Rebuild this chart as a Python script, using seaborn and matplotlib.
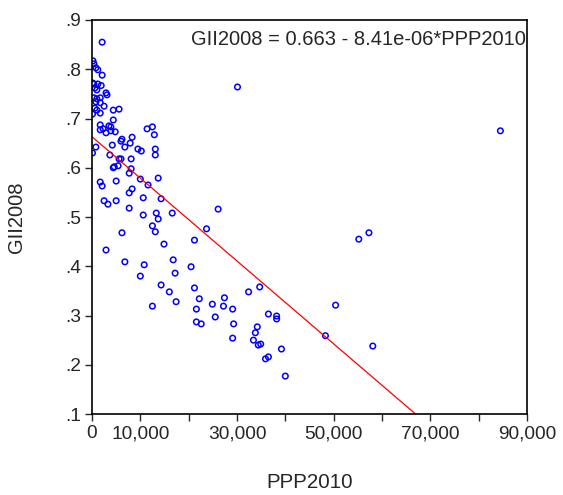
import numpy as np
import pandas as pd
import matplotlib
matplotlib.use("Agg")
import matplotlib.pyplot as plt
import seaborn as sns

# values
ppp2010 = [
    2100, 200, 400, 800, 1200, 2100, 150, 400, 1200, 1900,
    600, 1000, 2900, 3100, 400, 1000, 1700, 800, 1700, 2500,
    600, 1000, 1700, 4400, 5600, 100, 4400, 1700, 3500, 3900,
    1700, 2300, 2900, 3900, 4800, 6200, 8300, 11400, 12500, 12900,
    7900, 6800, 4200, 800, 100, 9500, 10200, 13100, 13100, 3700,
    5600, 6000, 8100, 4600, 4400, 5400, 7700, 8100, 10000, 11600,
    13700, 1700, 2100, 5000, 8300, 7700, 10600, 14300, 2500, 3300,
    5000, 7700, 13300, 13700, 10600, 16600, 12500, 13100, 6200, 21200,
    26100, 23700, 14900, 2900, 6800, 10800, 10000, 16800, 17200, 20500,
    14300, 16000, 21200, 32400, 12500, 17400, 22200, 21600, 24900, 27200,
    27400, 29100, 25500, 21600, 22600, 29300, 29100, 34700, 36500, 38200,
    38200, 34200, 33800, 33400, 34400, 34900, 35900, 36500, 39200, 40000,
    50400, 48300, 55200, 57300, 58100, 30100, 84500, 6000,
]
gii2008 = [
    0.855, 0.817, 0.811, 0.803, 0.799, 0.788, 0.772, 0.770, 0.770, 0.767,
    0.762, 0.758, 0.752, 0.748, 0.742, 0.740, 0.742, 0.734, 0.732, 0.725,
    0.721, 0.717, 0.711, 0.717, 0.719, 0.709, 0.697, 0.687, 0.685, 0.683,
    0.677, 0.679, 0.671, 0.675, 0.673, 0.658, 0.662, 0.679, 0.683, 0.667,
    0.650, 0.642, 0.646, 0.642, 0.630, 0.638, 0.634, 0.638, 0.626, 0.626,
    0.618, 0.618, 0.618, 0.602, 0.600, 0.604, 0.589, 0.598, 0.577, 0.565,
    0.579, 0.571, 0.563, 0.573, 0.557, 0.549, 0.539, 0.537, 0.533, 0.526,
    0.533, 0.518, 0.508, 0.496, 0.504, 0.508, 0.482, 0.470, 0.468, 0.453,
    0.516, 0.476, 0.445, 0.433, 0.409, 0.403, 0.380, 0.413, 0.386, 0.399,
    0.362, 0.348, 0.356, 0.348, 0.319, 0.328, 0.334, 0.313, 0.323, 0.319,
    0.336, 0.313, 0.297, 0.287, 0.283, 0.283, 0.254, 0.358, 0.303, 0.299,
    0.293, 0.277, 0.265, 0.250, 0.240, 0.242, 0.212, 0.216, 0.232, 0.177,
    0.321, 0.259, 0.455, 0.468, 0.238, 0.764, 0.675, 0.654,
]

# fitted regression line
intercept = 0.663
slope = -8.41e-06

x_ticks = [0, 10000, 20000, 30000, 40000, 50000, 60000, 70000, 80000, 90000]
x_tick_labels = ["0", "10,000", "", "30,000", "", "50,000", "", "70,000", "", "90,000"]
y_ticks = [0.1, 0.2, 0.3, 0.4, 0.5, 0.6, 0.7, 0.8, 0.9]
y_tick_labels = [".1", ".2", ".3", ".4", ".5", ".6", ".7", ".8", ".9"]

df = pd.DataFrame({"PPP2010": ppp2010, "GII2008": gii2008})

sns.set_style("ticks")
plt.rcParams["font.family"] = ["Liberation Sans", "DejaVu Sans"]

fig = plt.figure(figsize=(5.63, 4.95), dpi=100)
ax = fig.add_axes([0.1634, 0.1636, 0.7726, 0.796])

sns.scatterplot(data=df, x="PPP2010", y="GII2008", ax=ax, marker="o",
                facecolors="none", edgecolor="#0000ff", linewidth=1.1, s=16)

# regression line over the x range, clipped by the axes
line_x = np.linspace(0, max(ppp2010), 200)
line_y = intercept + slope * line_x
sns.lineplot(x=line_x, y=line_y, ax=ax, color="red", linewidth=0.9)

ax.set_xlim(0, 90000)
ax.set_ylim(0.1, 0.9)
ax.set_xticks(x_ticks)
ax.set_xticklabels(x_tick_labels)
ax.set_yticks(y_ticks)
ax.set_yticklabels(y_tick_labels)
ax.tick_params(axis="both", direction="out", length=5, width=1, labelsize=13.8, pad=3)

for side in ["top", "right", "bottom", "left"]:
    ax.spines[side].set_visible(True)
    ax.spines[side].set_linewidth(1.2)
    ax.spines[side].set_color("black")

ax.set_xlabel("PPP2010", fontsize=14.8, labelpad=22)
ax.set_ylabel("GII2008", fontsize=14.5, labelpad=28)

ax.text(0.998, 0.975, "GII2008 = 0.663 - 8.41e-06*PPP2010", transform=ax.transAxes,
        ha="right", va="top", fontsize=14.5)

fig.savefig("out.png", dpi=100)
